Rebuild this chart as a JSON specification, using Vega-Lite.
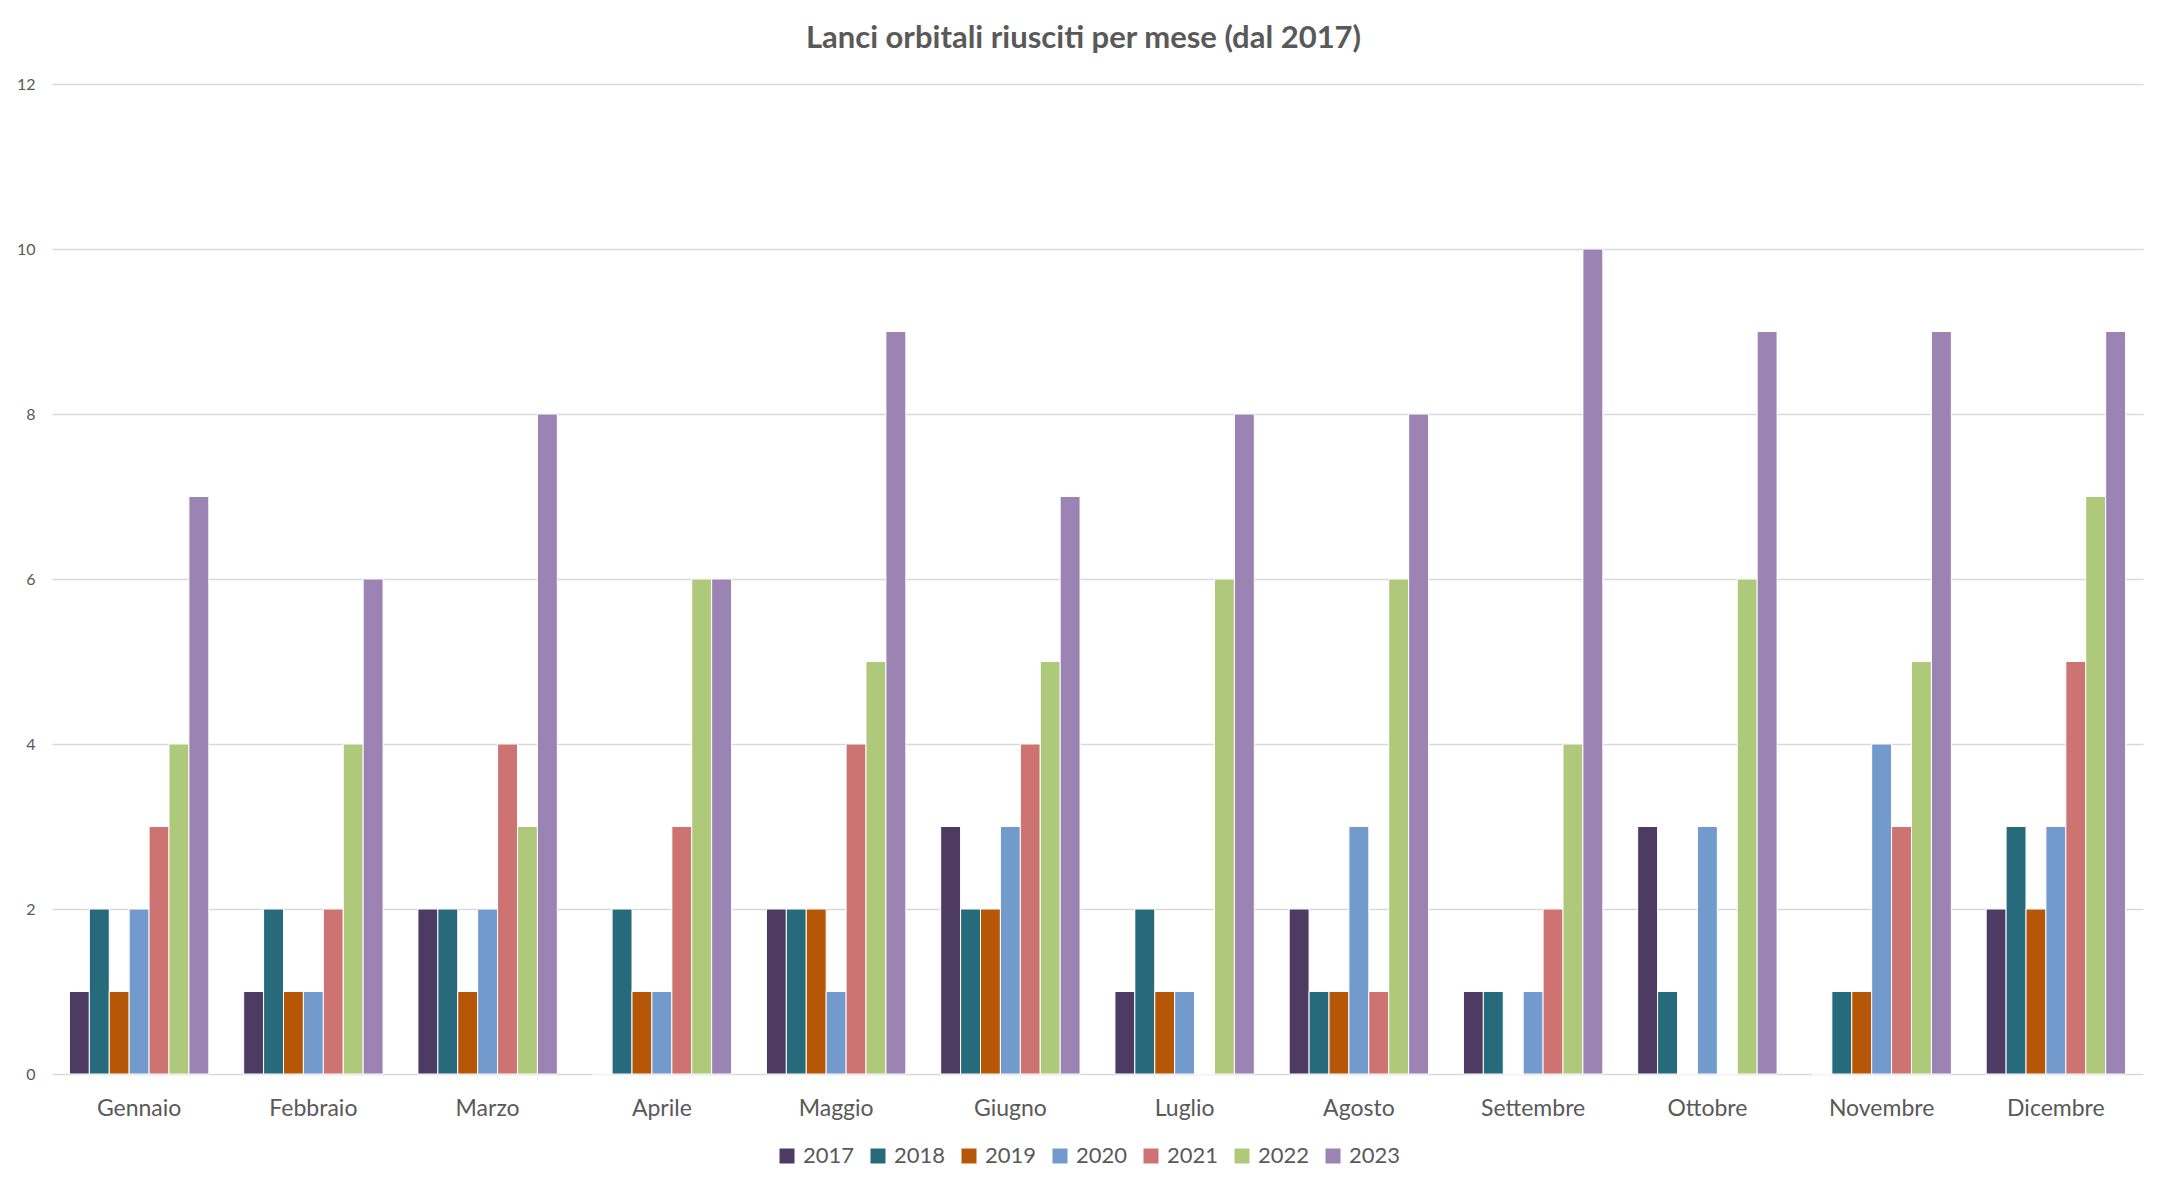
{
  "$schema": "https://vega.github.io/schema/vega-lite/v6.json",
  "autosize": "none",
  "width": 2091,
  "height": 990,
  "padding": {"left": 52, "top": 84, "right": 23, "bottom": 115},
  "background": "white",
  "title": {
    "text": "Lanci orbitali riusciti per mese (dal 2017)",
    "font": "Lato",
    "fontSize": 31,
    "fontWeight": "bold",
    "color": "#595959",
    "anchor": "middle",
    "dx": -14,
    "offset": 21
  },
  "data": {
    "values": [
      {"mese": "Gennaio", "anno": "2017", "lanci": 1},
      {"mese": "Gennaio", "anno": "2018", "lanci": 2},
      {"mese": "Gennaio", "anno": "2019", "lanci": 1},
      {"mese": "Gennaio", "anno": "2020", "lanci": 2},
      {"mese": "Gennaio", "anno": "2021", "lanci": 3},
      {"mese": "Gennaio", "anno": "2022", "lanci": 4},
      {"mese": "Gennaio", "anno": "2023", "lanci": 7},
      {"mese": "Febbraio", "anno": "2017", "lanci": 1},
      {"mese": "Febbraio", "anno": "2018", "lanci": 2},
      {"mese": "Febbraio", "anno": "2019", "lanci": 1},
      {"mese": "Febbraio", "anno": "2020", "lanci": 1},
      {"mese": "Febbraio", "anno": "2021", "lanci": 2},
      {"mese": "Febbraio", "anno": "2022", "lanci": 4},
      {"mese": "Febbraio", "anno": "2023", "lanci": 6},
      {"mese": "Marzo", "anno": "2017", "lanci": 2},
      {"mese": "Marzo", "anno": "2018", "lanci": 2},
      {"mese": "Marzo", "anno": "2019", "lanci": 1},
      {"mese": "Marzo", "anno": "2020", "lanci": 2},
      {"mese": "Marzo", "anno": "2021", "lanci": 4},
      {"mese": "Marzo", "anno": "2022", "lanci": 3},
      {"mese": "Marzo", "anno": "2023", "lanci": 8},
      {"mese": "Aprile", "anno": "2017", "lanci": 0},
      {"mese": "Aprile", "anno": "2018", "lanci": 2},
      {"mese": "Aprile", "anno": "2019", "lanci": 1},
      {"mese": "Aprile", "anno": "2020", "lanci": 1},
      {"mese": "Aprile", "anno": "2021", "lanci": 3},
      {"mese": "Aprile", "anno": "2022", "lanci": 6},
      {"mese": "Aprile", "anno": "2023", "lanci": 6},
      {"mese": "Maggio", "anno": "2017", "lanci": 2},
      {"mese": "Maggio", "anno": "2018", "lanci": 2},
      {"mese": "Maggio", "anno": "2019", "lanci": 2},
      {"mese": "Maggio", "anno": "2020", "lanci": 1},
      {"mese": "Maggio", "anno": "2021", "lanci": 4},
      {"mese": "Maggio", "anno": "2022", "lanci": 5},
      {"mese": "Maggio", "anno": "2023", "lanci": 9},
      {"mese": "Giugno", "anno": "2017", "lanci": 3},
      {"mese": "Giugno", "anno": "2018", "lanci": 2},
      {"mese": "Giugno", "anno": "2019", "lanci": 2},
      {"mese": "Giugno", "anno": "2020", "lanci": 3},
      {"mese": "Giugno", "anno": "2021", "lanci": 4},
      {"mese": "Giugno", "anno": "2022", "lanci": 5},
      {"mese": "Giugno", "anno": "2023", "lanci": 7},
      {"mese": "Luglio", "anno": "2017", "lanci": 1},
      {"mese": "Luglio", "anno": "2018", "lanci": 2},
      {"mese": "Luglio", "anno": "2019", "lanci": 1},
      {"mese": "Luglio", "anno": "2020", "lanci": 1},
      {"mese": "Luglio", "anno": "2021", "lanci": 0},
      {"mese": "Luglio", "anno": "2022", "lanci": 6},
      {"mese": "Luglio", "anno": "2023", "lanci": 8},
      {"mese": "Agosto", "anno": "2017", "lanci": 2},
      {"mese": "Agosto", "anno": "2018", "lanci": 1},
      {"mese": "Agosto", "anno": "2019", "lanci": 1},
      {"mese": "Agosto", "anno": "2020", "lanci": 3},
      {"mese": "Agosto", "anno": "2021", "lanci": 1},
      {"mese": "Agosto", "anno": "2022", "lanci": 6},
      {"mese": "Agosto", "anno": "2023", "lanci": 8},
      {"mese": "Settembre", "anno": "2017", "lanci": 1},
      {"mese": "Settembre", "anno": "2018", "lanci": 1},
      {"mese": "Settembre", "anno": "2019", "lanci": 0},
      {"mese": "Settembre", "anno": "2020", "lanci": 1},
      {"mese": "Settembre", "anno": "2021", "lanci": 2},
      {"mese": "Settembre", "anno": "2022", "lanci": 4},
      {"mese": "Settembre", "anno": "2023", "lanci": 10},
      {"mese": "Ottobre", "anno": "2017", "lanci": 3},
      {"mese": "Ottobre", "anno": "2018", "lanci": 1},
      {"mese": "Ottobre", "anno": "2019", "lanci": 0},
      {"mese": "Ottobre", "anno": "2020", "lanci": 3},
      {"mese": "Ottobre", "anno": "2021", "lanci": 0},
      {"mese": "Ottobre", "anno": "2022", "lanci": 6},
      {"mese": "Ottobre", "anno": "2023", "lanci": 9},
      {"mese": "Novembre", "anno": "2017", "lanci": 0},
      {"mese": "Novembre", "anno": "2018", "lanci": 1},
      {"mese": "Novembre", "anno": "2019", "lanci": 1},
      {"mese": "Novembre", "anno": "2020", "lanci": 4},
      {"mese": "Novembre", "anno": "2021", "lanci": 3},
      {"mese": "Novembre", "anno": "2022", "lanci": 5},
      {"mese": "Novembre", "anno": "2023", "lanci": 9},
      {"mese": "Dicembre", "anno": "2017", "lanci": 2},
      {"mese": "Dicembre", "anno": "2018", "lanci": 3},
      {"mese": "Dicembre", "anno": "2019", "lanci": 2},
      {"mese": "Dicembre", "anno": "2020", "lanci": 3},
      {"mese": "Dicembre", "anno": "2021", "lanci": 5},
      {"mese": "Dicembre", "anno": "2022", "lanci": 7},
      {"mese": "Dicembre", "anno": "2023", "lanci": 9}
    ]
  },
  "mark": {"type": "bar", "stroke": "white", "strokeWidth": 1},
  "encoding": {
    "x": {
      "field": "mese",
      "type": "nominal",
      "sort": null,
      "title": null,
      "scale": {"paddingInner": 0.2, "paddingOuter": 0.1},
      "axis": {
        "labelAngle": 0,
        "ticks": false,
        "domain": false,
        "labelPadding": 23,
        "labelFont": "Lato",
        "labelFontSize": 23,
        "labelColor": "#595959"
      }
    },
    "xOffset": {"field": "anno", "type": "nominal", "sort": null},
    "y": {
      "field": "lanci",
      "type": "quantitative",
      "title": null,
      "scale": {"domain": [0, 12], "nice": false},
      "axis": {
        "values": [0, 2, 4, 6, 8, 10, 12],
        "ticks": false,
        "domain": false,
        "labelPadding": 17,
        "labelFont": "Lato",
        "labelFontSize": 16,
        "labelColor": "#595959",
        "gridColor": "#D9D9D9",
        "gridWidth": 1.5
      }
    },
    "color": {
      "field": "anno",
      "type": "nominal",
      "title": null,
      "scale": {
        "domain": ["2017", "2018", "2019", "2020", "2021", "2022", "2023"],
        "range": ["#4E3B63", "#276A7C", "#B65708", "#729ACC", "#CD7371", "#AFC97A", "#9B83B4"]
      },
      "legend": {
        "orient": "none",
        "direction": "horizontal",
        "legendX": 724,
        "legendY": 1061,
        "symbolType": "square",
        "symbolSize": 225,
        "symbolStrokeWidth": 0,
        "labelFont": "Lato",
        "labelFontSize": 22,
        "labelColor": "#595959",
        "labelOffset": 5,
        "columnPadding": 12
      }
    }
  },
  "config": {
    "view": {"stroke": null}
  }
}
